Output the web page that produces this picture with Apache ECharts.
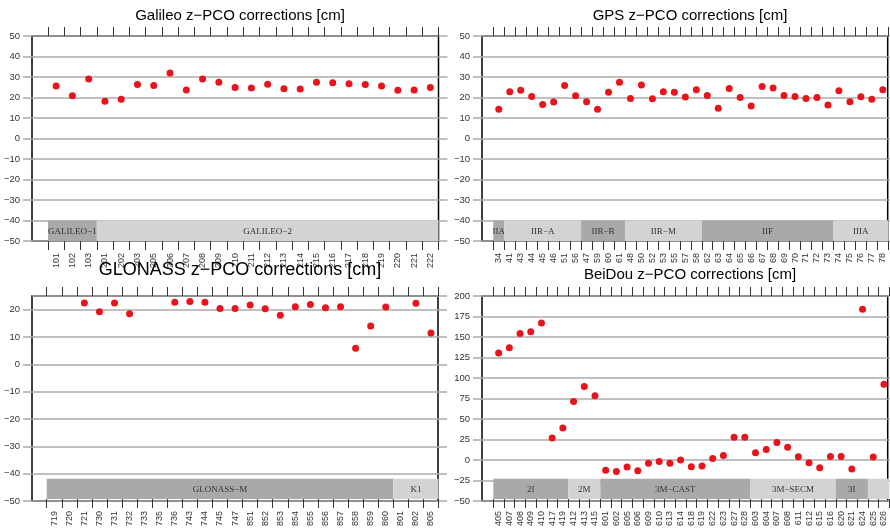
<!DOCTYPE html>
<html>
  <head>
    <meta charset="utf-8">
    <title>z-PCO corrections</title>
    <script src="https://cdn.jsdelivr.net/npm/echarts@6/dist/echarts.min.js" charset="utf-8"></script>
    <style media="screen">
      html, body { margin: 0; padding: 0; background: #fff; }
      #main { width: 890px; height: 529px; }
    </style>
  </head>
  <body>
    <div id="main"></div>
    <script type="text/javascript">
      // ---- data ----
      var galileoSats = ['101','102','103','201','202','203','205','206','207','208','209','210','211','212','213','214','215','216','217','218','219','220','221','222'];
      var galileoVals = [25.6,20.8,29.0,18.2,19.1,26.4,25.9,31.9,23.6,29.0,27.4,24.9,24.6,26.5,24.3,24.1,27.4,27.2,26.7,26.4,25.6,23.5,23.6,24.9];
      var galileoGroups = [['GALILEO−1',3,1],['GALILEO−2',21,0]];

      var gpsSats = ['34','41','43','44','45','46','51','56','47','59','60','61','48','50','52','53','55','57','58','62','63','64','65','66','67','68','69','70','71','72','73','74','75','76','77','78'];
      var gpsVals = [14.3,22.8,23.5,20.5,16.6,17.8,25.9,20.8,17.9,14.3,22.6,27.4,19.5,26.1,19.4,22.8,22.6,20.2,23.8,21.0,14.7,24.4,20.0,15.8,25.4,24.6,21.0,20.5,19.5,20.0,16.4,23.3,17.9,20.4,19.2,23.8];
      var gpsGroups = [['IIA',1,1],['IIR−A',7,0],['IIR−B',4,1],['IIR−M',7,0],['IIF',12,1],['IIIA',5,0]];

      var glonassSats = ['719','720','721','730','731','732','733','735','736','743','744','745','747','851','852','853','854','855','856','857','858','859','860','801','802','805'];
      var glonassVals = [null,null,22.4,19.2,22.4,18.4,null,null,22.7,23.0,22.7,20.4,20.4,21.7,20.3,17.9,21.0,21.9,20.7,21.0,5.7,13.9,20.9,null,22.3,11.3];
      var glonassGroups = [['GLONASS−M',23,1],['K1',3,0]];

      var beidouSats = ['405','407','408','409','410','417','419','412','413','415','601','602','605','606','609','610','613','614','618','619','622','623','627','628','603','604','607','608','611','612','615','616','620','621','624','625','626'];
      var beidouVals = [129.9,136.4,153.9,155.9,166.9,25.2,37.5,70.0,88.4,77.0,-14.7,-16.3,-10.6,-15.1,-6.1,-3.7,-6.1,-2.0,-10.2,-9.4,0.0,3.7,26.1,26.1,6.9,11.0,19.5,13.8,2.0,-5.3,-11.4,2.4,2.4,-13.0,183.6,1.6,91.2];
      var beidouGroups = [['2I',7,1],['2M',3,0],['3M−CAST',14,1],['3M−SECM',8,0],['3I',3,1],['',2,0]];

      var DARK = '#a9a9a9', LIGHT = '#d3d3d3', GRIDC = '#ababab', DOT = '#e8141c';

      var myChart = echarts.init(document.getElementById('main'));

      var grids = [], xAxes = [], yAxes = [], series = [], titles = [];

      function minus(v) { return String(v).replace('-', '−'); }

      // draws the satellite-type bands; labels come from the closure
      function makeBandRender(labels) {
        return function (params, api) {
          var s = api.value(0), e = api.value(1);
          var lo = api.value(2), hi = api.value(3);
          var w = api.size([1, 0])[0];
          var p0 = api.coord([s, hi]);
          var p1 = api.coord([e, lo]);
          var x0 = p0[0] - w / 2, x1 = p1[0] + w / 2;
          return {
            type: 'group',
            children: [
              { type: 'rect', shape: { x: x0, y: p0[1], width: x1 - x0, height: p1[1] - p0[1] },
                style: { fill: api.value(4) ? DARK : LIGHT } },
              { type: 'text', style: { text: labels[params.dataIndex], x: (x0 + x1) / 2, y: (p0[1] + p1[1]) / 2 + 1,
                align: 'center', verticalAlign: 'middle', font: '9px "Liberation Serif"', fill: '#333' } }
            ]
          };
        };
      }

      // one panel = frame grid (y axis, border) + scatter grid (category axis)
      function addPanel(p) {
        var gf = grids.length;
        grids.push({ left: p.fl, right: p.fr, top: p.top, bottom: p.bottom, show: true,
          backgroundColor: '#fff', borderColor: '#000', borderWidth: 1.5 });
        grids.push({ left: p.sl, right: p.sr, top: p.top, bottom: p.bottom });

        xAxes.push({ type: 'value', gridIndex: gf, show: false });
        var xb = xAxes.length;
        xAxes.push({
          type: 'category', gridIndex: gf + 1, data: p.sats, position: 'bottom',
          axisLine: { show: false, onZero: false },
          axisTick: { show: true, length: 9, interval: 0, lineStyle: { color: '#333', width: 1 } },
          axisLabel: { interval: 0, rotate: 90, fontSize: 9, color: '#333', margin: 12,
            fontFamily: 'Liberation Sans' },
          splitLine: { show: false }
        });
        xAxes.push({
          type: 'category', gridIndex: gf + 1, data: p.sats, position: 'top',
          axisLine: { show: false, onZero: false },
          axisTick: { show: true, length: 9, interval: 0, lineStyle: { color: '#333', width: 1 } },
          axisLabel: { show: false }, splitLine: { show: false }
        });

        yAxes.push({
          type: 'value', gridIndex: gf, min: p.min, max: p.max, interval: p.step, position: 'left',
          axisLine: { show: false },
          axisTick: { show: true, length: 9, lineStyle: { color: GRIDC, width: 1.5 } },
          axisLabel: { fontSize: 9.5, color: '#333', margin: 12, fontFamily: 'Liberation Sans',
            showMaxLabel: p.showMax, formatter: minus },
          splitLine: { show: true, lineStyle: { color: GRIDC, width: 1.5 } }
        });
        yAxes.push({
          type: 'value', gridIndex: gf, min: p.min, max: p.max, interval: p.step, position: 'right',
          axisLine: { show: false },
          axisTick: { show: true, length: 9, lineStyle: { color: GRIDC, width: 1.5 } },
          axisLabel: { show: false }, splitLine: { show: false }
        });
        var ys = yAxes.length;
        yAxes.push({ type: 'value', gridIndex: gf + 1, min: p.min, max: p.max, show: false });

        // type bands in the bottom tenth of the plot
        var lo = p.min, hi = p.min + (p.max - p.min) / 10;
        var bands = [], labels = [], idx = 0;
        for (var i = 0; i < p.groups.length; i++) {
          var g = p.groups[i];
          bands.push([idx, idx + g[1] - 1, lo, hi, g[2]]);
          labels.push(g[0]);
          idx += g[1];
        }
        series.push({
          type: 'custom', xAxisIndex: xb, yAxisIndex: ys, renderItem: makeBandRender(labels),
          encode: { x: [0, 1], y: [2, 3] }, data: bands, silent: true, z: 2
        });
        series.push({
          type: 'scatter', xAxisIndex: xb, yAxisIndex: ys, data: p.vals,
          symbolSize: 7, itemStyle: { color: DOT, opacity: 1 }, z: 3
        });

        titles.push({ text: p.title, left: p.cx, top: p.ttop, textAlign: 'center',
          textStyle: { fontSize: p.tsize, fontWeight: 'normal', color: '#000', fontFamily: 'Liberation Sans' } });
      }

      addPanel({ title: 'Galileo z−PCO corrections [cm]', cx: 235, ttop: 3, tsize: 15,
        sats: galileoSats, vals: galileoVals, groups: galileoGroups,
        min: -50, max: 50, step: 10, showMax: true,
        fl: 32, fr: 451.5, sl: 48, sr: 451.5, top: 36, bottom: 288 });
      addPanel({ title: 'GPS z−PCO corrections [cm]', cx: 685, ttop: 3, tsize: 15,
        sats: gpsSats, vals: gpsVals, groups: gpsGroups,
        min: -50, max: 50, step: 10, showMax: true,
        fl: 482, fr: 2.3, sl: 493.3, sr: 1.7, top: 36, bottom: 288 });
      addPanel({ title: 'GLONASS z−PCO corrections [cm]', cx: 235, ttop: 256, tsize: 18,
        sats: glonassSats, vals: glonassVals, groups: glonassGroups,
        min: -50, max: 25, step: 10, showMax: false,
        fl: 32, fr: 452, sl: 46.7, sr: 451.5, top: 296, bottom: 28 });
      addPanel({ title: 'BeiDou z−PCO corrections [cm]', cx: 685, ttop: 262, tsize: 15,
        sats: beidouSats, vals: beidouVals, groups: beidouGroups,
        min: -50, max: 200, step: 25, showMax: true,
        fl: 482, fr: 2.3, sl: 493.3, sr: 0.7, top: 296, bottom: 28 });

      var option = {
        animation: false,
        backgroundColor: '#fff',
        title: titles,
        grid: grids,
        xAxis: xAxes,
        yAxis: yAxes,
        series: series
      };
      myChart.setOption(option);
    </script>
  </body>
</html>
